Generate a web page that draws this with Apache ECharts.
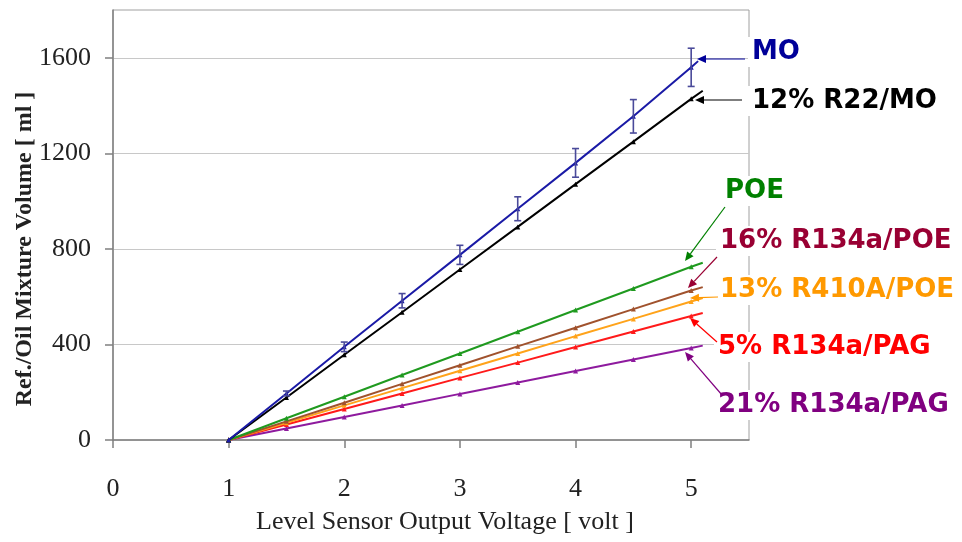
<!DOCTYPE html>
<html><head><meta charset="utf-8">
<script src="https://cdn.jsdelivr.net/npm/echarts@6/dist/echarts.min.js"></script>
<style>html,body{margin:0;padding:0;background:#fff}#c{width:962px;height:542px}</style>
</head><body><div id="c"></div>
<script>
// ---- data ----
const voltage = [1, 1.5, 2, 2.5, 3, 3.5, 4, 4.5, 5];
const mo        = [0, 195, 390, 583, 775, 968, 1160, 1355, 1560];
const moErr     = [0, 10, 20, 30, 40, 50, 60, 70, 80];
const r22mo     = [0, 178, 357, 535, 714, 892, 1071, 1249, 1428];
const poe       = [0, 91, 181, 272, 362, 453, 544, 634, 725];
const r134aPoe  = [0, 78, 156, 235, 313, 392, 470, 548, 626];
const r410aPoe  = [0, 72, 145, 217, 290, 362, 435, 507, 580];
const r134aPag5 = [0, 65, 130, 195, 260, 324, 389, 454, 519];
const r134aPag21= [0, 48, 96, 144, 193, 241, 289, 337, 385];
// trend-line end points
const trendEnd = {
  mo: [5.06, 1586], r22mo: [5.1, 1462], poe: [5.1, 742], r134aPoe: [5.1, 640],
  r410aPoe: [5.1, 594], r134aPag5: [5.1, 532], r134aPag21: [5.1, 395]
};
const seriesNames = ['MO', '12% R22/MO', 'POE', '16% R134a/POE', '13% R410A/POE', '5% R134a/PAG', '21% R134a/PAG'];
const xTicks = [0, 1, 2, 3, 4, 5];
const yTicks = [0, 400, 800, 1200, 1600];

// ---- styles ----
const lineColors = ['#1a1aa6', '#000000', '#1f9a1f', '#a0522d', '#ffa31a', '#ff1a1a', '#8e1a9e'];
const labelColors = ['#000099', '#000000', '#008000', '#990033', '#ff9900', '#ff0000', '#800080'];
const keys = ['mo', 'r22mo', 'poe', 'r134aPoe', 'r410aPoe', 'r134aPag5', 'r134aPag21'];
const values = [mo, r22mo, poe, r134aPoe, r410aPoe, r134aPag5, r134aPag21];

const chart = echarts.init(document.getElementById('c'), null, {renderer: 'canvas'});

const series = values.map((vals, i) => {
  const data = voltage.map((x, j) => [x, vals[j]]);
  data.push({value: trendEnd[keys[i]], symbol: 'none'});
  return {
    name: seriesNames[i], type: 'line', data: data,
    symbol: 'triangle', symbolSize: 5, showSymbol: true,
    lineStyle: {color: lineColors[i], width: 2},
    itemStyle: {color: lineColors[i]},
    z: 10 - i, animation: false
  };
});

series.push({
  type: 'custom', name: 'MO error', z: 12, animation: false,
  data: voltage.map((x, j) => [x, mo[j], moErr[j]]).filter(d => d[2] > 0),
  renderItem: function (params, api) {
    const x = api.value(0), y = api.value(1), e = api.value(2);
    const p1 = api.coord([x, y + e]);
    const p2 = api.coord([x, y - e]);
    const w = 3.5;
    const st = {stroke: '#4a4a9a', lineWidth: 1.6};
    return {type: 'group', children: [
      {type: 'line', shape: {x1: p1[0], y1: p1[1], x2: p2[0], y2: p2[1]}, style: st},
      {type: 'line', shape: {x1: p1[0] - w, y1: p1[1], x2: p1[0] + w, y2: p1[1]}, style: st},
      {type: 'line', shape: {x1: p2[0] - w, y1: p2[1], x2: p2[0] + w, y2: p2[1]}, style: st}
    ]};
  }
});

// ---- annotations (label layout in pixels) ----
const labelPos = [[752, 53], [752, 102], [725, 192], [720, 242], [720, 291], [718, 348], [718, 406]];
const arrowPos = [
  [[745, 59], [697, 59]],
  [[742, 100], [695, 100]],
  [[725, 207], [685, 261]],
  [[717, 257], [688, 288]],
  [[718, 297], [690, 298]],
  [[717, 342], [690, 318]],
  [[722, 395], [685, 352]]
];
const graphics = [];
seriesNames.forEach((name, i) => {
  graphics.push({
    type: 'text', left: labelPos[i][0] - 4, top: labelPos[i][1] - 16, z: 100,
    style: {text: name, fill: labelColors[i], font: 'bold 26px "DejaVu Sans"',
      backgroundColor: '#fff', padding: [2, 4, 2, 4]}
  });
  const a = arrowPos[i][0], b = arrowPos[i][1];
  const dx = b[0] - a[0], dy = b[1] - a[1];
  const L = Math.hypot(dx, dy), ux = dx / L, uy = dy / L;
  const hl = 9, hw = 4;
  const bx = b[0] - ux * hl, by = b[1] - uy * hl;
  graphics.push({type: 'line', z: 101, shape: {x1: a[0], y1: a[1], x2: bx, y2: by},
    style: {stroke: labelColors[i], lineWidth: 1.2}});
  graphics.push({type: 'polygon', z: 101, shape: {points: [
    [b[0], b[1]], [bx - uy * hw, by + ux * hw], [bx + uy * hw, by - ux * hw]]},
    style: {fill: labelColors[i]}});
});

chart.setOption({
  backgroundColor: '#fff',
  animation: false,
  grid: {left: 113, right: 213, top: 10, bottom: 102, show: true, borderColor: '#a0a0a0', borderWidth: 1,
    containLabel: false, outerBoundsMode: 'none'},
  xAxis: {
    type: 'value', min: 0, max: 5.5, interval: 1,
    name: 'Level Sensor Output Voltage [ volt ]', nameLocation: 'middle', nameGap: 69,
    nameTextStyle: {fontFamily: 'Liberation Serif', fontSize: 26, color: '#222', padding: [0, 0, 0, 28]},
    axisLine: {lineStyle: {color: '#808080', width: 1.5}},
    axisTick: {inside: false, length: 8, lineStyle: {color: '#808080', width: 1.5},
      customValues: xTicks},
    axisLabel: {fontFamily: 'Liberation Serif', fontSize: 26, color: '#222', margin: 36,
      customValues: xTicks, formatter: v => String(v)},
    splitLine: {show: false}
  },
  yAxis: {
    type: 'value', min: 0, max: 1800, interval: 400,
    name: 'Ref./Oil Mixture Volume [ ml ]', nameLocation: 'middle', nameGap: 76, nameMoveOverlap: false,
    nameTextStyle: {fontFamily: 'Liberation Serif', fontWeight: 'bold', fontSize: 24, color: '#222',
      padding: [0, 48, 0, 0]},
    axisLine: {show: true, lineStyle: {color: '#808080', width: 1.5}},
    axisTick: {show: true, length: 8, lineStyle: {color: '#808080', width: 1.5}, customValues: yTicks},
    axisLabel: {fontFamily: 'Liberation Serif', fontSize: 26, color: '#222', margin: 22,
      customValues: yTicks, formatter: v => String(v)},
    splitLine: {show: true, lineStyle: {color: '#c8c8c8', width: 1}}
  },
  series: series,
  graphic: graphics
});
</script></body></html>
